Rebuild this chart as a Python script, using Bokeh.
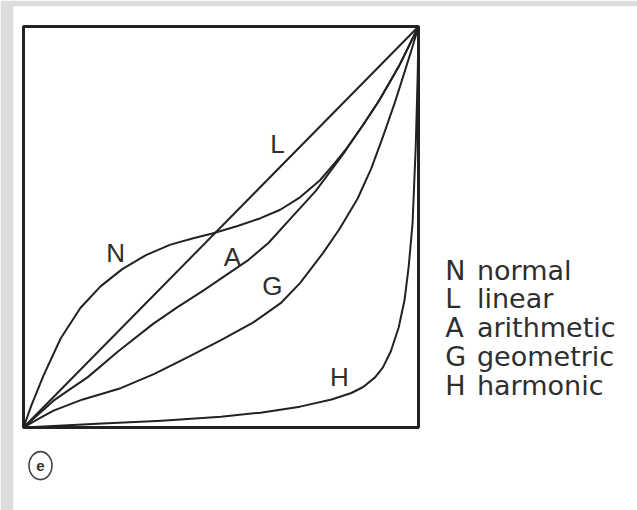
from bokeh.plotting import figure
from bokeh.models import Range1d
from bokeh.embed import file_html
from bokeh.resources import INLINE
from bokeh.core.properties import value

# Curve data: cumulative share (y) against cumulative share (x), unit square
n_x = [0, 0.02, 0.05, 0.094, 0.144, 0.195, 0.25, 0.31, 0.372, 0.43, 0.478, 0.54,
       0.6, 0.65, 0.7, 0.75, 0.79, 0.815, 0.86, 0.9, 0.95, 1.0]
n_y = [0, 0.055, 0.128, 0.222, 0.298, 0.352, 0.395, 0.43, 0.456, 0.472, 0.484, 0.502,
       0.522, 0.543, 0.574, 0.616, 0.662, 0.692, 0.755, 0.815, 0.9, 1.0]

l_x = [0, 1.0]
l_y = [0, 1.0]

a_x = [0, 0.04, 0.076, 0.12, 0.162, 0.24, 0.329, 0.39, 0.456, 0.51, 0.567, 0.62,
       0.676, 0.74, 0.795, 0.815, 0.86, 0.9, 0.95, 1.0]
a_y = [0, 0.035, 0.067, 0.097, 0.125, 0.19, 0.259, 0.30, 0.342, 0.378, 0.416, 0.46,
       0.521, 0.59, 0.663, 0.69, 0.755, 0.815, 0.9, 1.0]

g_x = [0, 0.04, 0.076, 0.15, 0.246, 0.33, 0.415, 0.5, 0.582, 0.651, 0.70, 0.759,
       0.80, 0.846, 0.88, 0.911, 0.94, 0.962, 0.985, 1.0]
g_y = [0, 0.023, 0.042, 0.07, 0.098, 0.133, 0.175, 0.218, 0.262, 0.31, 0.36, 0.436,
       0.495, 0.571, 0.645, 0.728, 0.81, 0.878, 0.95, 1.0]

h_x = [0, 0.1, 0.2, 0.35, 0.5, 0.6, 0.7, 0.78, 0.83, 0.86, 0.89, 0.91, 0.93, 0.95,
       0.965, 0.975, 0.985, 0.993, 0.998, 1.0]
h_y = [0, 0.005, 0.01, 0.017, 0.027, 0.037, 0.052, 0.07, 0.086, 0.101, 0.125, 0.15,
       0.19, 0.25, 0.32, 0.40, 0.51, 0.70, 0.88, 1.0]

curve_letters = ["N", "L", "A", "G", "H"]
curve_names = ["normal", "linear", "arithmetic", "geometric", "harmonic"]
panel_tag = "e"

INK = "#222222"
TXT = "#2e2e2e"
LABEL_FONT = value("Liberation Sans")
KEY_FONT = value("DejaVu Sans")

# canvas and box geometry (pixels)
W, H = 637, 510
BOX_L, BOX_R, BOX_T, BOX_B = 23, 418, 26, 427
PAGE_L, PAGE_T = 13, 6
sx = BOX_R - BOX_L
sy = BOX_B - BOX_T

p = figure(width=W, height=H,
           x_range=Range1d((PAGE_L - BOX_L) / sx, (W - BOX_L) / sx),
           y_range=Range1d(-(H - BOX_B) / sy, 1 + (BOX_T - PAGE_T) / sy),
           x_axis_type=None, y_axis_type=None,
           min_border_left=PAGE_L, min_border_top=PAGE_T,
           min_border_right=0, min_border_bottom=0,
           toolbar_location=None, output_backend="svg",
           border_fill_color="#dcdedb", background_fill_color="white",
           outline_line_color=None)
p.grid.visible = False

# square frame around the unit domain
p.quad(left=[min(l_x)], right=[max(l_x)], bottom=[min(l_y)], top=[max(l_y)],
       fill_color=None, line_color=INK, line_width=3)

for xs, ys in [(n_x, n_y), (l_x, l_y), (a_x, a_y), (g_x, g_y), (h_x, h_y)]:
    p.line(xs, ys, line_color=INK, line_width=2.0, line_join="round")

# curve labels
p.text(x=[0.233, 0.643, 0.529, 0.630, 0.80],
       y=[0.434, 0.708, 0.424, 0.354, 0.125],
       text=curve_letters, text_font=LABEL_FONT, text_font_size="26px",
       text_align="center", text_baseline="middle", text_color=TXT)

# key to the right of the frame
key_y = [0.392, 0.322, 0.249, 0.177, 0.105]
p.text(x=[1.068] * 5, y=key_y, text=curve_letters, text_font=KEY_FONT,
       text_font_size="27px", text_align="left", text_baseline="middle",
       text_color=TXT)
p.text(x=[1.148] * 5, y=key_y, text=curve_names, text_font=KEY_FONT,
       text_font_size="27px", text_align="left", text_baseline="middle",
       text_color=TXT)

# circled panel tag
p.ellipse(x=[0.043], y=[-0.095], width=23, height=28,
          width_units="screen", height_units="screen",
          fill_color=None, line_color="#444444", line_width=1.6)
p.text(x=[0.043], y=[-0.095], text=[panel_tag], text_font=LABEL_FONT,
       text_font_size="15px", text_font_style="bold", text_align="center",
       text_baseline="middle", text_color="#333333")

open("out.html", "w").write(file_html(p, INLINE))
